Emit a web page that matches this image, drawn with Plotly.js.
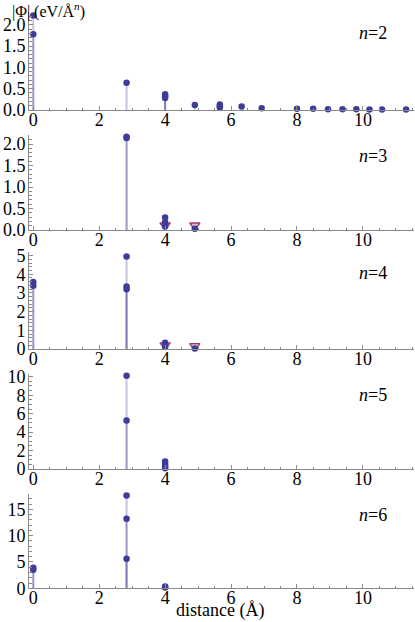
<!DOCTYPE html>
<html>
<head>
<meta charset="utf-8">
<script src="https://cdn.plot.ly/plotly-3.0.1.min.js"></script>
<style>
html,body{margin:0;padding:0;background:#fff;}
#chart{width:415px;height:622px;}
</style>
</head>
<body>
<div id="chart"></div>
<script>
// ---- data ----
const panelLabels = ["2", "3", "4", "5", "6"];

const n2X = [0, 0, 2.83, 4, 4, 4, 4.9, 5.66, 5.66, 5.66, 6.32, 6.93, 8, 8.49, 8.94, 9.38, 9.8, 10.2, 10.58, 11.31];
const n2Y = [2.22, 1.78, 0.64, 0.37, 0.32, 0.28, 0.12, 0.13, 0.09, 0.06, 0.08, 0.04, 0.03, 0.03, 0.02, 0.02, 0.02, 0.01, 0.01, 0.01];
const n2TriX = [];
const n2TriY = [];

const n3X = [2.83, 2.83, 4, 4, 4, 4.9];
const n3Y = [2.17, 2.14, 0.29, 0.18, 0.08, 0.03];
const n3TriX = [4, 4.9];
const n3TriY = [0.11, 0.11];

const n4X = [0, 0, 2.83, 2.83, 2.83, 4, 4, 4.9];
const n4Y = [3.58, 3.38, 4.95, 3.35, 3.2, 0.34, 0.12, 0.03];
const n4TriX = [4, 4.9];
const n4TriY = [0.21, 0.17];

const n5X = [2.83, 2.83, 4, 4, 4, 4];
const n5Y = [10.1, 5.25, 0.8, 0.55, 0.3, 0.08];
const n5TriX = [];
const n5TriY = [];

const n6X = [0, 0, 2.83, 2.83, 2.83, 4, 4];
const n6Y = [3.9, 3.5, 17.6, 13.2, 5.6, 0.35, 0.15];
const n6TriX = [];
const n6TriY = [];

const yRanges = [[0, 2.3], [0, 2.2], [0, 5.2], [0, 10.3], [0, 17.9]];
const yDticks = [0.5, 0.5, 1, 2, 5];
const yMinor = [0.1, 0.1, 0.2, 0.5, 1];
const yFormats = [".1f", ".1f", "d", "d", "d"];

// ---- styles / layout ----
const W = 415, H = 622;
const blue = "#3d3d99";
const stem = "rgba(61,61,153,0.30)";
const triLine = "#993d71";
const triFill = "rgba(225,175,205,0.9)";
const axisCol = "#8a8a8a";
const FONT = "Liberation Serif";

// pixel positions of each panel (top, bottom)
const panelPx = [[12, 110], [135.4, 230], [251.8, 349], [374, 469], [494, 588.3]];

const series = [
  [n2X, n2Y, n2TriX, n2TriY],
  [n3X, n3Y, n3TriX, n3TriY],
  [n4X, n4Y, n4TriX, n4TriY],
  [n5X, n5Y, n5TriX, n5TriY],
  [n6X, n6Y, n6TriX, n6TriY]
];

const traces = [];
const layout = {
  width: W, height: H, autosize: false,
  margin: {l: 0, r: 0, t: 0, b: 0, pad: 0},
  paper_bgcolor: "#fff", plot_bgcolor: "rgba(0,0,0,0)",
  showlegend: false,
  font: {family: FONT, size: 18, color: "#000"},
  annotations: []
};

series.forEach((s, i) => {
  const k = i === 0 ? "" : String(i + 1);
  const xa = "x" + k, ya = "y" + k;
  if (s[2].length) {
    traces.push({
      type: "scatter", mode: "markers", x: s[2], y: s[3], xaxis: xa, yaxis: ya, cliponaxis: false,
      marker: {symbol: "triangle-down", size: 9, color: triFill, line: {color: triLine, width: 1.3}},
      error_y: {type: "data", symmetric: false, array: s[3].map(() => 0), arrayminus: s[3], width: 0, thickness: 1.5, color: "rgba(153,61,113,0.25)"},
      hoverinfo: "skip"
    });
  }
  traces.push({
    type: "scatter", mode: "markers", x: s[0], y: s[1], xaxis: xa, yaxis: ya, cliponaxis: false,
    marker: {symbol: "circle", size: 6.5, color: blue},
    error_y: {type: "data", symmetric: false, array: s[1].map(() => 0), arrayminus: s[1], width: 0, thickness: 2, color: stem},
    hoverinfo: "skip"
  });
  const top = panelPx[i][0], bot = panelPx[i][1];
  layout["xaxis" + k] = {
    domain: [29 / W, 414 / W], range: [-0.13, 11.55], anchor: ya,
    tickmode: "linear", tick0: 0, dtick: 2,
    ticks: "inside", ticklen: 4, tickwidth: 1, tickcolor: axisCol,
    ticklabelstandoff: -7,
    minor: {dtick: 0.5, tick0: 0, ticks: "inside", ticklen: 2.5, tickcolor: axisCol},
    showline: true, linecolor: axisCol, linewidth: 1,
    showgrid: false, zeroline: false,
    tickfont: {family: FONT, size: 18, color: "#000"},
    fixedrange: true
  };
  layout["yaxis" + k] = {
    domain: [1 - bot / H, 1 - top / H], range: yRanges[i], anchor: xa,
    tickmode: "linear", tick0: 0, dtick: yDticks[i], tickformat: yFormats[i],
    ticks: "inside", ticklen: 4, tickwidth: 1, tickcolor: axisCol,
    ticklabelstandoff: -1,
    minor: {dtick: yMinor[i], tick0: 0, ticks: "inside", ticklen: 2.5, tickcolor: axisCol},
    showline: true, linecolor: axisCol, linewidth: 1,
    showgrid: false, zeroline: false,
    tickfont: {family: FONT, size: 18, color: "#000"},
    fixedrange: true
  };
  layout.annotations.push({
    xref: "paper", yref: "paper", x: 373 / W, y: 1 - (top + 21) / H,
    xanchor: "center", yanchor: "middle", showarrow: false,
    text: "<i>n</i>=" + panelLabels[i],
    font: {family: FONT, size: 18, color: "#000"}
  });
});

layout.annotations.push({
  xref: "paper", yref: "paper", x: 11 / W, y: 1 + 1 / H,
  xanchor: "left", yanchor: "top", showarrow: false, borderpad: 0,
  text: "|Φ| (eV/Å<sup><i>n</i></sup>)",
  font: {family: FONT, size: 16, color: "#000"}
});
layout.annotations.push({
  xref: "paper", yref: "paper", x: 220 / W, y: 0,
  xanchor: "center", yanchor: "bottom", showarrow: false, borderpad: 0,
  text: "distance (Å)",
  font: {family: FONT, size: 18, color: "#000"}
});

Plotly.newPlot("chart", traces, layout, {displayModeBar: false, staticPlot: true});
</script>
</body>
</html>
